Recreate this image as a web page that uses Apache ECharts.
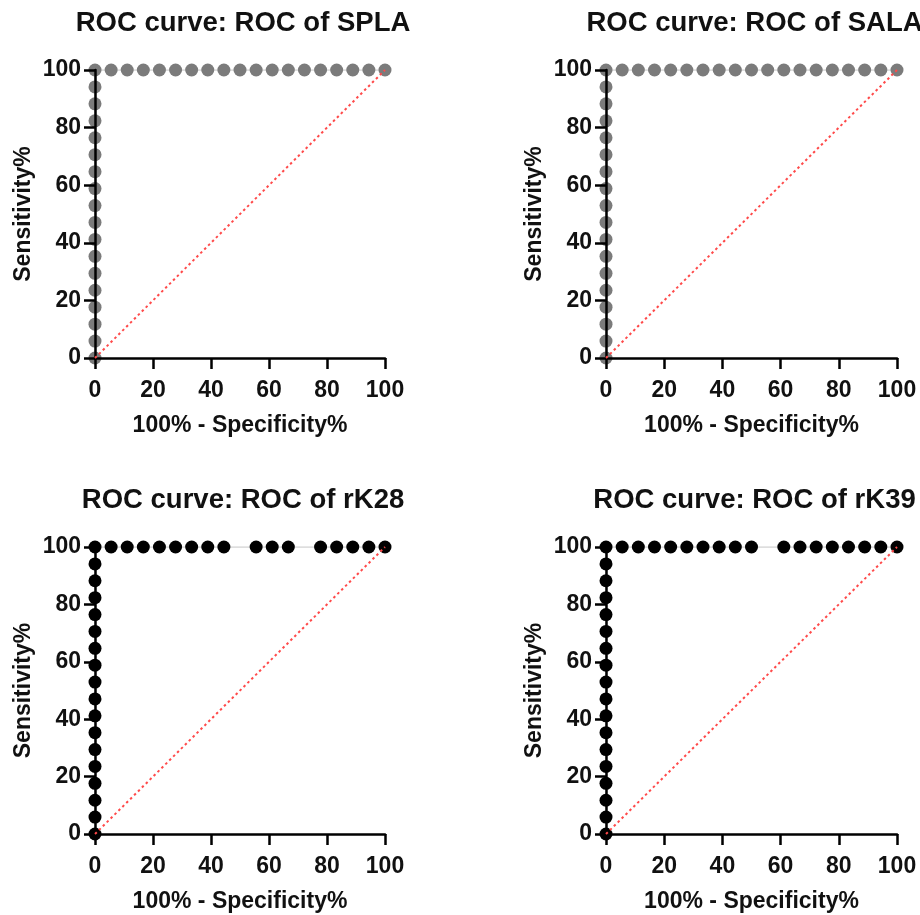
<!DOCTYPE html>
<html>
<head>
<meta charset="utf-8">
<title>ROC curves</title>
<script src="https://cdn.jsdelivr.net/npm/echarts@6/dist/echarts.min.js"></script>
<style>
  html, body { margin: 0; padding: 0; background: #ffffff; }
  #chart { width: 920px; height: 915px; }
</style>
</head>
<body>
<div id="chart"></div>
<script>
// Panel titles and axis labels
const panelTitles = ['ROC curve: ROC of SPLA', 'ROC curve: ROC of SALA', 'ROC curve: ROC of rK28', 'ROC curve: ROC of rK39'];
const xAxisName = '100% - Specificity%';
const yAxisName = 'Sensitivity%';
const axisTicks = [0, 20, 40, 60, 80, 100];

// Sensitivity% reached along the vertical rise at 100% - Specificity% = 0 (same in every panel)
const sensitivityRise = [0, 5.88, 11.76, 17.65, 23.53, 29.41, 35.29, 41.18, 47.06, 52.94,
  58.82, 64.71, 70.59, 76.47, 82.35, 88.24, 94.12, 100];

// 100% - Specificity% of the points that sit at Sensitivity% = 100
const splaTopRow = [5.56, 11.11, 16.67, 22.22, 27.78, 33.33, 38.89, 44.44, 50,
  55.56, 61.11, 66.67, 72.22, 77.78, 83.33, 88.89, 94.44, 100];
const salaTopRow = [5.56, 11.11, 16.67, 22.22, 27.78, 33.33, 38.89, 44.44, 50,
  55.56, 61.11, 66.67, 72.22, 77.78, 83.33, 88.89, 94.44, 100];
const rk28TopRow = [5.56, 11.11, 16.67, 22.22, 27.78, 33.33, 38.89, 44.44,
  55.56, 61.11, 66.67, 77.78, 83.33, 88.89, 94.44, 100];
const rk39TopRow = [5.56, 11.11, 16.67, 22.22, 27.78, 33.33, 38.89, 44.44, 50,
  61.11, 66.67, 72.22, 77.78, 83.33, 88.89, 94.44, 100];

// Chance line endpoints
const chanceLine = [[0, 0], [100, 100]];

const panelTopRows = [splaTopRow, salaTopRow, rk28TopRow, rk39TopRow];
const markerColors = ['#7b7b7b', '#7b7b7b', '#000000', '#000000'];

const FONT = '"Liberation Sans", Arial, sans-serif';

// Plot areas (left, top, width, height) for the 2x2 panels
const panelBoxes = [
  { left: 95, top: 70, width: 290, height: 288 },
  { left: 606, top: 70, width: 291, height: 288 },
  { left: 95, top: 547, width: 290, height: 287 },
  { left: 606, top: 547, width: 291, height: 287 }
];

function rocPoints(topRow) {
  const pts = sensitivityRise.map(s => [0, s]);
  return pts.concat(topRow.map(x => [x, 100]));
}

const grids = [], xAxes = [], yAxes = [], series = [], titles = [];

panelBoxes.forEach((box, i) => {
  grids.push({ left: box.left, top: box.top, width: box.width, height: box.height, containLabel: false });

  titles.push({
    text: panelTitles[i],
    left: box.left + box.width / 2 - 2,
    top: box.top - 66,
    textAlign: 'center',
    textStyle: { fontFamily: FONT, fontWeight: 'bold', fontSize: 27.5, color: '#111' }
  });

  const axisCommon = {
    gridIndex: i,
    type: 'value',
    min: axisTicks[0],
    max: axisTicks[axisTicks.length - 1],
    interval: axisTicks[1] - axisTicks[0],
    z: 3,
    splitLine: { show: false },
    axisLine: { show: true, onZero: false, lineStyle: { color: '#000', width: 2.5 } },
    axisTick: { show: true, inside: false, length: 11, lineStyle: { color: '#000', width: 2.5 } },
    axisLabel: { fontFamily: FONT, fontWeight: 'bold', fontSize: 23, color: '#111' },
    nameTextStyle: { fontFamily: FONT, fontWeight: 'bold', fontSize: 23, color: '#111' },
    nameLocation: 'middle'
  };

  xAxes.push(Object.assign({}, axisCommon, {
    position: 'bottom',
    name: xAxisName,
    nameGap: 56,
    axisLabel: Object.assign({}, axisCommon.axisLabel, { margin: 21 })
  }));
  yAxes.push(Object.assign({}, axisCommon, {
    position: 'left',
    name: yAxisName,
    nameGap: 60,
    axisLabel: Object.assign({}, axisCommon.axisLabel, { margin: 14 })
  }));

  series.push({
    type: 'line',
    xAxisIndex: i,
    yAxisIndex: i,
    data: rocPoints(panelTopRows[i]),
    symbol: 'circle',
    symbolSize: 13,
    showSymbol: true,
    z: 2,
    lineStyle: { color: '#d4d4d4', width: 1.5 },
    itemStyle: { color: markerColors[i], borderWidth: 0 },
    emphasis: { disabled: true },
    animation: false
  });

  series.push({
    type: 'line',
    xAxisIndex: i,
    yAxisIndex: i,
    data: chanceLine,
    symbol: 'none',
    z: 4,
    lineStyle: { color: '#ff4a4a', width: 2, type: [2.5, 3] },
    emphasis: { disabled: true },
    animation: false
  });
});

const chart = echarts.init(document.getElementById('chart'), null, { renderer: 'canvas' });
chart.setOption({
  backgroundColor: '#ffffff',
  animation: false,
  title: titles,
  grid: grids,
  xAxis: xAxes,
  yAxis: yAxes,
  series: series
});
</script>
</body>
</html>
